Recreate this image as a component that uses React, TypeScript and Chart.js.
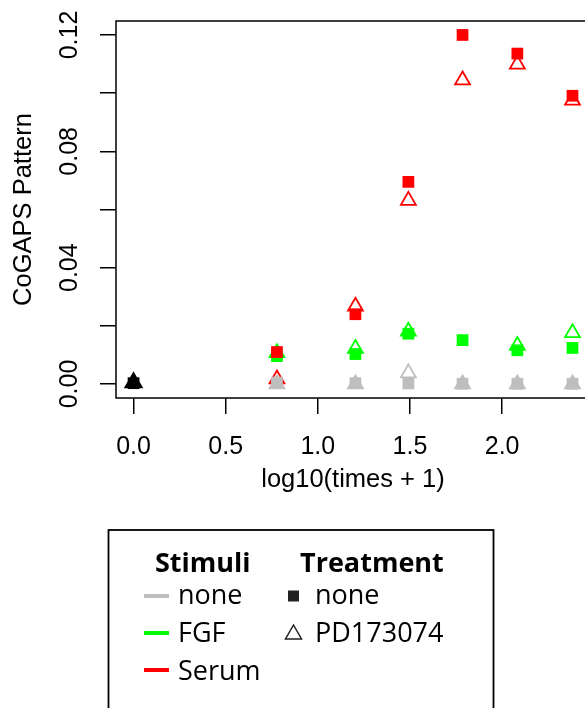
import React, { useEffect, useRef } from 'react';
import { Chart, registerables } from 'chart.js';

Chart.register(...registerables);

// ---- data ----
const times = [5, 15, 30, 60, 120, 240];
const controlTimes = [0];
const serumNone = [0.011, 0.024, 0.0695, 0.12, 0.1136, 0.0991];
const serumPD = [0.0017, 0.0267, 0.0631, 0.1045, 0.1099, 0.0975];
const fgfNone = [0.0096, 0.0103, 0.0173, 0.0151, 0.0116, 0.0124];
const fgfPD: (number | null)[] = [0.0107, 0.0122, 0.0181, null, 0.0132, 0.0176];
const noneNone = [0.0005, 0.0003, 0.0002, 0.0001, 0.0001, 0.0001];
const nonePD = [0.0, 0.0, 0.0038, 0.0, 0.0, 0.0];
const controlNone = [0.0003];
const controlPD = [0.0005];

const xTicks = [0, 0.5, 1, 1.5, 2];
const yTicks = [0, 0.02, 0.04, 0.06, 0.08, 0.1, 0.12];
const yLabelTicks = [0, 0.04, 0.08, 0.12];
const xRange = [-0.0953, 2.477];
const yRange = [-0.0048, 0.1248];

const stimuliLabels = ['none', 'FGF', 'Serum'];
const treatmentLabels = ['none', 'PD173074'];

// ---- styles ----
const GREY = '#bebebe';
const GREEN = '#00ff00';
const RED = '#ff0000';
const BLACK = '#000000';
const stimuliColors = [GREY, GREEN, RED];

const toPoints = (ts: number[], vals: (number | null)[]) =>
  ts
    .map((t, i) => ({ x: Math.log10(t + 1), y: vals[i] }))
    .filter((p) => p.y !== null && p.y !== undefined);

const SQ_R = 8.3;
const TRI_R = 8.6;

const sq = (label: string, ts: number[], vals: (number | null)[], color: string) => ({
  label,
  data: toPoints(ts, vals),
  pointStyle: 'rect',
  pointRadius: SQ_R,
  backgroundColor: color,
  borderColor: color,
  borderWidth: 0,
  showLine: false,
});
const tri = (label: string, ts: number[], vals: (number | null)[], color: string, fill = false, r = TRI_R) => ({
  label,
  data: toPoints(ts, vals),
  pointStyle: 'triangle',
  pointRadius: r,
  backgroundColor: fill ? color : 'rgba(0,0,0,0)',
  borderColor: color,
  borderWidth: 1.8,
  showLine: false,
});

const framePlugin = {
  id: 'frameAndLegend',
  afterDraw(chart: any) {
    const { ctx, chartArea: a } = chart;
    ctx.save();
    ctx.strokeStyle = '#000';
    ctx.lineWidth = 1.5;
    ctx.strokeRect(a.left, a.top, a.right - a.left, a.bottom - a.top);

    // legend box
    const L = { left: 108.5, top: 530, right: 493.5, bottom: 730 };
    ctx.lineWidth = 1.8;
    ctx.strokeRect(L.left, L.top, L.right - L.left, L.bottom - L.top);

    ctx.fillStyle = '#000';
    ctx.textAlign = 'left';
    ctx.textBaseline = 'alphabetic';
    ctx.font = 'bold 27px "Open Sans"';
    ctx.fillText('Stimuli', 155, 572);
    ctx.fillText('Treatment', 300, 572);

    ctx.font = '27px "Open Sans"';
    const rowBase = [604, 642, 680];
    const rowMid = [596, 633, 670];
    stimuliLabels.forEach((lab, i) => {
      ctx.strokeStyle = stimuliColors[i];
      ctx.lineWidth = 4;
      ctx.beginPath();
      ctx.moveTo(144, rowMid[i]);
      ctx.lineTo(169, rowMid[i]);
      ctx.stroke();
      ctx.fillStyle = '#000';
      ctx.fillText(lab, 178, rowBase[i]);
    });
    treatmentLabels.forEach((lab, i) => {
      const cx = 293.5;
      const cy = rowMid[i];
      if (i === 0) {
        ctx.fillStyle = '#222';
        ctx.fillRect(cx - 5.5, cy - 5.5, 11, 11);
      } else {
        ctx.strokeStyle = '#222';
        ctx.lineWidth = 1.5;
        ctx.beginPath();
        ctx.moveTo(cx, cy - 8);
        ctx.lineTo(cx + 8, cy + 6);
        ctx.lineTo(cx - 8, cy + 6);
        ctx.closePath();
        ctx.stroke();
      }
      ctx.fillStyle = '#000';
      ctx.fillText(lab, 315, rowBase[i]);
    });
    ctx.restore();
  },
};

const axisFont = 'Liberation Sans';

export default function App() {
  const ref = useRef<HTMLCanvasElement>(null);
  useEffect(() => {
    if (!ref.current) return;
    const datasets: any[] = [
      tri('control PD', controlTimes, controlPD, BLACK, true, 9.5),
      sq('control none', controlTimes, controlNone, BLACK),
      sq('none none', times, noneNone, GREY),
      tri('none PD', times, nonePD, GREY),
      sq('Serum none', times, serumNone, RED),
      tri('Serum PD', times, serumPD, RED),
      sq('FGF none', times, fgfNone, GREEN),
      tri('FGF PD', times, fgfPD, GREEN),
    ];
    const gridOpts = {
      display: true,
      drawOnChartArea: false,
      drawTicks: true,
      tickLength: 16,
      color: '#000',
      lineWidth: 1.5,
    };
    const chart = new Chart(ref.current, {
      type: 'scatter',
      data: { datasets },
      plugins: [framePlugin],
      options: {
        animation: false,
        responsive: false,
        layout: { autoPadding: false, padding: { left: 0, top: 19, right: 10, bottom: 210 } },
        plugins: { legend: { display: false }, tooltip: { enabled: false } },
        scales: {
          x: {
            type: 'linear',
            min: xRange[0],
            max: xRange[1],
            afterBuildTicks: (s: any) => {
              s.ticks = xTicks.map((v) => ({ value: v }));
            },
            afterFit: (s: any) => {
              s.height = 100;
            },
            ticks: {
              autoSkip: false,
              minRotation: 0,
              maxRotation: 0,
              padding: 18,
              color: '#000',
              font: { family: axisFont, size: 25 },
              callback: (v: any) => Number(v).toFixed(1),
            },
            grid: gridOpts,
            border: { display: false },
            title: {
              display: true,
              text: 'log10(times + 1)',
              color: '#000',
              font: { family: axisFont, size: 25.5 },
              padding: { top: 0, bottom: 3 },
            },
          },
          y: {
            type: 'linear',
            min: yRange[0],
            max: yRange[1],
            afterBuildTicks: (s: any) => {
              s.ticks = yTicks.map((v) => ({ value: v }));
            },
            afterFit: (s: any) => {
              s.width = 116;
            },
            ticks: {
              autoSkip: false,
              minRotation: 90,
              maxRotation: 90,
              crossAlign: 'center',
              padding: 6,
              color: '#000',
              font: { family: axisFont, size: 25 },
              callback: (v: any) =>
                yLabelTicks.some((t) => Math.abs(t - Number(v)) < 1e-9) ? Number(v).toFixed(2) : '',
            },
            grid: gridOpts,
            border: { display: false },
            title: {
              display: true,
              text: 'CoGAPS Pattern',
              color: '#000',
              font: { family: axisFont, size: 25.5 },
              padding: { top: 9, bottom: 0 },
            },
          },
        },
      } as any,
    });
    const fonts: any = (document as any).fonts;
    if (fonts && fonts.load) {
      Promise.all([fonts.load('27px "Open Sans"'), fonts.load('bold 27px "Open Sans"')])
        .then(() => chart.draw())
        .catch(() => {});
    }
    return () => chart.destroy();
  }, []);

  return (
    <div
      style={{
        position: 'fixed',
        left: 0,
        top: 0,
        width: 585,
        height: 708,
        overflow: 'hidden',
        background: '#fff',
      }}
    >
      <canvas ref={ref} width={600} height={708} style={{ display: 'block' }} />
    </div>
  );
}
